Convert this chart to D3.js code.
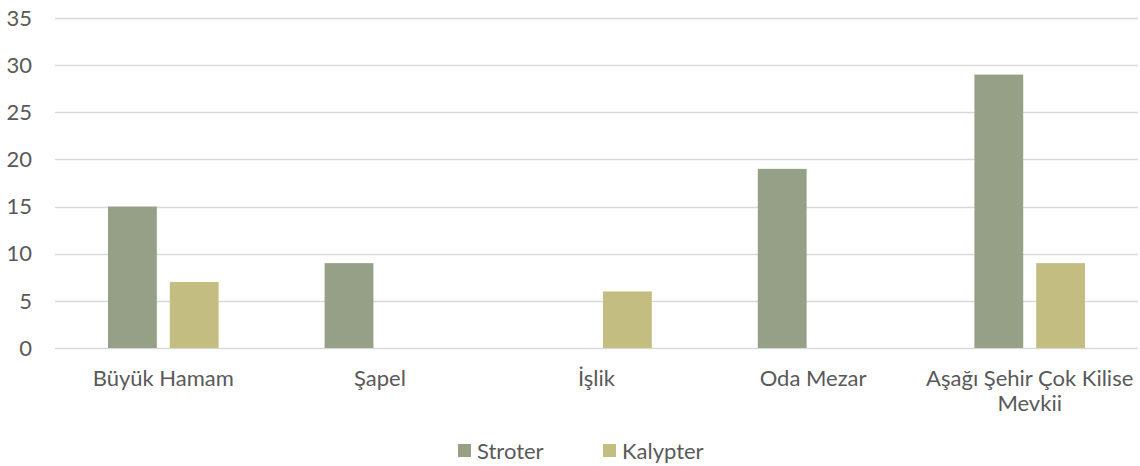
<!DOCTYPE html>
<html>
<head>
<meta charset="utf-8">
<script src="https://cdn.jsdelivr.net/npm/d3@7"></script>
<style>
  html, body { margin: 0; padding: 0; background: #fff; overflow: hidden; }
  svg { display: block; }
  text { font-family: Lato, "Open Sans", sans-serif; fill: #595959; }
</style>
</head>
<body>
<svg id="main" width="1140" height="466"></svg>
<script>
const width = 1140;
const height = 466;
const margin = { left: 55, top: 18, right: 2, bottom: 118 };

const categories = ['Büyük Hamam', 'Şapel', 'İşlik', 'Oda Mezar', 'Aşağı Şehir Çok Kilise Mevkii'];
const seriesNames = ['Stroter', 'Kalypter'];
const stroter = [15, 9, 0, 19, 29];
const kalypter = [7, 0, 6, 0, 9];
const yTicks = [0, 5, 10, 15, 20, 25, 30, 35];
const colors = ['#95a086', '#c3bd81'];

const rows = categories.map((c, i) => ({ cat: c, values: [stroter[i], kalypter[i]] }));

const svg = d3.select('#main');

// scales in page coordinates
const x0 = d3.scaleBand().domain(categories).range([margin.left, width - margin.right]).padding(0);
const groupPad = 53;
const x1 = d3.scaleBand()
    .domain(seriesNames)
    .range([groupPad, x0.bandwidth() - groupPad])
    .paddingInner(0.21)
    .paddingOuter(0);
const y = d3.scaleLinear().domain([0, 35]).range([height - margin.bottom, margin.top]);

// grid
svg.selectAll('.grid')
    .data(yTicks)
    .join('line')
    .attr('class', 'grid')
    .attr('x1', margin.left)
    .attr('x2', width - margin.right)
    .attr('y1', d => Math.round(y(d)) + 0.5)
    .attr('y2', d => Math.round(y(d)) + 0.5)
    .attr('stroke', '#d9d9d9')
    .attr('stroke-width', 1.3);

// y labels
svg.selectAll('.ylab')
    .data(yTicks)
    .join('text')
    .attr('class', 'ylab')
    .attr('x', margin.left - 23)
    .attr('y', d => y(d))
    .attr('dy', '0.35em')
    .attr('text-anchor', 'end')
    .style('font-size', '22px')
    .text(d => d);

// bars
svg.selectAll('.bar')
    .data(rows.flatMap(r => r.values.map((v, i) => ({ cat: r.cat, key: seriesNames[i], v, i }))))
    .join('rect')
    .attr('class', 'bar')
    .attr('x', d => x0(d.cat) + x1(d.key))
    .attr('width', x1.bandwidth())
    .attr('y', d => y(d.v))
    .attr('height', d => y(0) - y(d.v))
    .attr('fill', d => colors[d.i]);

// x labels (last one wraps)
const labelY = y(0) + 38;
const xlab = svg.selectAll('.xlab')
    .data(categories)
    .join('text')
    .attr('class', 'xlab')
    .attr('text-anchor', 'middle')
    .attr('x', d => x0(d) + x0.bandwidth() / 2)
    .attr('y', labelY)
    .style('font-size', '22px');
xlab.each(function (d) {
    const el = d3.select(this);
    const cx = x0(d) + x0.bandwidth() / 2;
    const lines = d === 'Aşağı Şehir Çok Kilise Mevkii' ? ['Aşağı Şehir Çok Kilise', 'Mevkii'] : [d];
    lines.forEach((l, i) => {
        el.append('tspan').attr('x', cx).attr('y', labelY + i * 25).text(l);
    });
});

// legend
const legendX = [458, 603];
seriesNames.forEach((s, i) => {
    svg.append('rect')
        .attr('x', legendX[i]).attr('y', 444)
        .attr('width', 13).attr('height', 13)
        .attr('fill', colors[i]);
    svg.append('text')
        .attr('x', legendX[i] + 19).attr('y', 451).attr('dy', '0.35em')
        .style('font-size', '22px').text(s);
});
</script>
</body>
</html>
